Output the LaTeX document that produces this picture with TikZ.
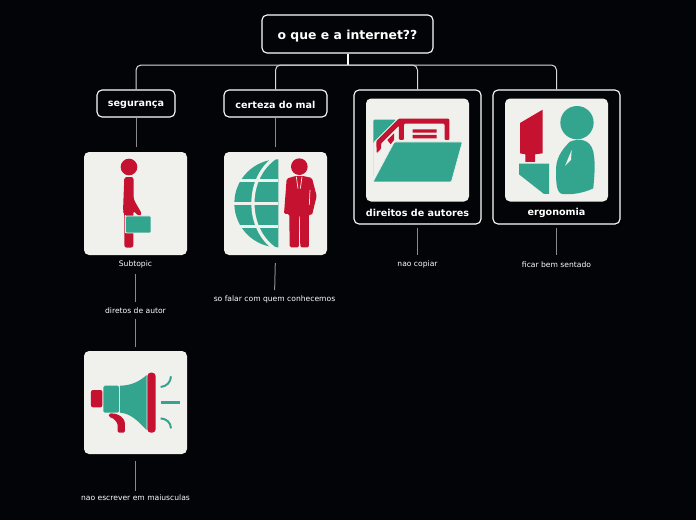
\documentclass[tikz,border=0pt]{standalone}
\usepackage{fontspec}
\setmainfont{DejaVu Sans}
\usetikzlibrary{calc,positioning}
\definecolor{pagebg}{HTML}{030407}
\definecolor{iconred}{HTML}{C41230}
\definecolor{iconteal}{HTML}{33A58F}
\definecolor{cardbg}{HTML}{F0F0EC}
\definecolor{twiggray}{HTML}{8A8A8A}
\tikzset{branch/.style={draw=white!85!black, line width=1pt, rounded corners=5pt},
  twig/.style={draw=twiggray, line width=1pt},
  topic/.style={draw=white, line width=1.1pt, rounded corners=5pt, fill=pagebg, text=white, inner sep=0pt, font=\bfseries\fontsize{9.6}{12}\selectfont},
  toptext/.style={text=white, inner sep=0pt, font=\bfseries\fontsize{9.6}{12}\selectfont},
  card/.style={fill=cardbg, rounded corners=5pt, minimum width=103pt, minimum height=103pt, inner sep=0pt},
  note/.style={text=white, inner sep=0pt, font=\fontsize{7.6}{9}\selectfont},
  zoomed/.style 2 args={shift={(#1,#2)}, x=0.3333pt, y=-0.3333pt}}

\begin{document}
\begin{tikzpicture}[x=1pt, y=-1pt]
  \fill[pagebg] (0,0) rectangle (696,520);
  \useasboundingbox (0,0) rectangle (696,520);
  % root and branches
  \node[topic, minimum width=171pt, minimum height=38pt] (root) at (347.5,34) {};
  \node[toptext, font=\bfseries\fontsize{12.4}{14}\selectfont] (roottext) at (347.5,36) {o que e a internet??};
  \node[topic, minimum width=78pt, minimum height=27pt] (seguranca) at (136,103.5) {};
  \node[toptext] (segurancatext) at (136,104.5) {segurança};
  \node[topic, minimum width=103pt, minimum height=27pt] (certeza) at (275.5,103.5) {};
  \node[toptext] (certezatext) at (275.5,104.5) {certeza do mal};
  \node[topic, minimum width=127pt, minimum height=134pt] (direitos) at (417.5,157) {};
  \node[topic, minimum width=127pt, minimum height=134pt] (ergonomia) at (556.5,157) {};
  \node[toptext] (direitoslabel) at (417.5,212.5) {direitos de autores};
  \node[toptext] (ergonomialabel) at (556.5,212.5) {ergonomia};
  \coordinate (fork) at (347.5,65);
  \draw[white, line width=2pt] (root.south) -- (fork);
  \draw[branch] (fork) -| (seguranca.north);
  \draw[branch] (fork) -| (certeza.north);
  \draw[branch] (fork) -| (direitos.north);
  \draw[branch] (fork) -| (ergonomia.north);
  % cards
  \node[card] (cardman) at (135.5,203.5) {};
  \node[card] (cardglobe) at (275.5,203.5) {};
  \node[card] (cardfolder) at (417.5,150) {};
  \node[card] (cardchair) at (556.5,150) {};
  \node[card] (cardhorn) at (135.5,402.5) {};
  % notes
  \node[note] (subtopic) at (135.5,264.5) {Subtopic};
  \node[note] (autor) at (135.5,310.5) {diretos de autor};
  \node[note] (maiusculas) at (135.5,498) {nao escrever em maiusculas};
  \node[note] (conhecemos) at (274.5,299) {so falar com quem conhecemos};
  \node[note] (copiar) at (417.5,264.5) {nao copiar};
  \node[note] (sentado) at (556.5,264.5) {ficar bem sentado};
  % twigs
  \draw[twig, shorten >=5pt] (seguranca.south) -- (seguranca.south |- cardman.north);
  \draw[twig, shorten >=5pt] (certeza.south) -- (certeza.south |- cardglobe.north);
  \draw[twig, shorten <=8pt, shorten >=5pt] (cardglobe.south) -- (conhecemos.north);
  \draw[twig, shorten <=3pt, shorten >=6pt] (direitos.south) -- (copiar.north);
  \draw[twig, shorten <=3pt, shorten >=6pt] (ergonomia.south) -- (sentado.north);
  \draw[twig, shorten <=6pt, shorten >=5pt] (subtopic.south) -- (autor.north);
  \draw[twig, shorten <=5pt, shorten >=4pt] (autor.south) -- (cardhorn.north);
  \draw[twig, shorten <=7pt, shorten >=4pt] (cardhorn.south) -- (maiusculas.north);
  % man with case
  \begin{scope}[zoomed={70}{140}]
    \fill[iconred] (177,81) circle (25);
    \fill[iconred, rounded corners=2.5pt] (163,111) -- (191,111) -- (191,178) -- (216,222) -- (207,229) -- (190,212) -- (190,323) -- (163,323) -- (163,220) -- (159,214) -- cycle;
    \draw[cardbg, line width=0.8pt] (165,226) -- (165,280);
    \fill[iconteal, draw=cardbg, line width=0.6pt, rounded corners=1pt] (167,228) rectangle (243,279);
  \end{scope}
  % globe and man
  \begin{scope}[zoomed={210}{140}]
    \begin{scope}
      \clip (72,50) rectangle (205,330);
      \fill[iconteal] (205,190) circle (132);
      \draw[cardbg, line width=2.4pt] (60,121) -- (205,121) (60,190) -- (205,190) (60,260) -- (205,260);
      \draw[cardbg, line width=3.2pt] (200,50) .. controls (105,110) and (105,270) .. (200,330);
    \end{scope}
    \fill[iconred] (268,80) circle (25);
    \fill[iconred, rounded corners=1.5pt] (230,116) -- (256,108) -- (280,108) -- (306,114) -- (320,168) -- (306,226) -- (297,222) -- (297,322) -- (271,322) -- (269,225) -- (267,225) -- (267,322) -- (239,322) -- (238,222) -- (222,222) -- cycle;
    \draw[cardbg, line width=0.7pt] (259,110) -- (264,146) (276,110) -- (271,146) (300,150) -- (298,195);
  \end{scope}
  % folder
  \begin{scope}[zoomed={350}{85}]
    \fill[iconteal, rounded corners=1pt] (70,104) -- (138,104) -- (70,172) -- (70,275) -- cycle;
    \fill[iconred, rounded corners=1pt] (79,168) -- (146,101) -- (298,101) -- (298,165) -- (284,165) -- (284,116) -- (162,116) -- (162,165) -- (147,165) -- (147,122) -- (93,176) -- (93,192) -- (80,205) -- cycle;
    \fill[iconred] (188,133) rectangle (260,143) (188,150) rectangle (260,160);
    \fill[iconred] (112,165) -- (132,145) -- (132,165) -- (122,178) -- cycle;
    \fill[iconteal, draw=cardbg, line width=0.6pt, rounded corners=1pt] (133,171) -- (337,171) -- (304,291) -- (69,291) -- cycle;
  \end{scope}
  % screen and sitting person
  \begin{scope}[zoomed={490}{85}]
    \fill[iconred] (90,114) -- (158,74) -- (158,205) -- (135,208) -- (135,231) -- (106,231) -- (106,208) -- (90,205) -- cycle;
    \fill[iconteal] (87,236) -- (177,236) -- (177,327) -- (162,327) -- (87,268) -- cycle;
    \fill[iconteal] (261,113) circle (50);
    \fill[iconteal] (240,170) .. controls (265,160) and (300,160) .. (310,200) .. controls (318,240) and (312,280) .. (310,310) .. controls (280,325) and (240,330) .. (218,327) .. controls (198,325) and (198,290) .. (198,250) .. controls (200,210) and (225,185) .. (240,170) -- cycle;
    \fill[cardbg] (245,195) -- (225,243) -- (243,225) -- cycle;
  \end{scope}
  % megaphone
  \begin{scope}[zoomed={75}{345}]
    \fill[iconred, rounded corners=2pt] (48,135) rectangle (82,187);
    \fill[iconteal, rounded corners=1.5pt] (85,122) rectangle (132,203);
    \fill[iconteal] (135,122) .. controls (170,122) and (195,108) .. (215,90) -- (215,255) .. controls (195,235) and (170,205) .. (135,203) -- cycle;
    \fill[iconred, rounded corners=3.5pt] (217,83) rectangle (242,263);
    \fill[iconred, rounded corners=1.5pt] (102,205) .. controls (135,205) and (150,222) .. (150,240) -- (150,263) -- (128,263) -- (128,245) .. controls (128,232) and (115,218) .. (102,217) -- cycle;
    \draw[iconteal, line width=2.4pt] (257,172) -- (315,172);
    \draw[iconteal, line width=2pt] (257,126) .. controls (275,124) and (287,112) .. (288,94);
    \draw[iconteal, line width=2pt] (257,220) .. controls (275,222) and (287,232) .. (288,250);
  \end{scope}
\end{tikzpicture}
\end{document}
